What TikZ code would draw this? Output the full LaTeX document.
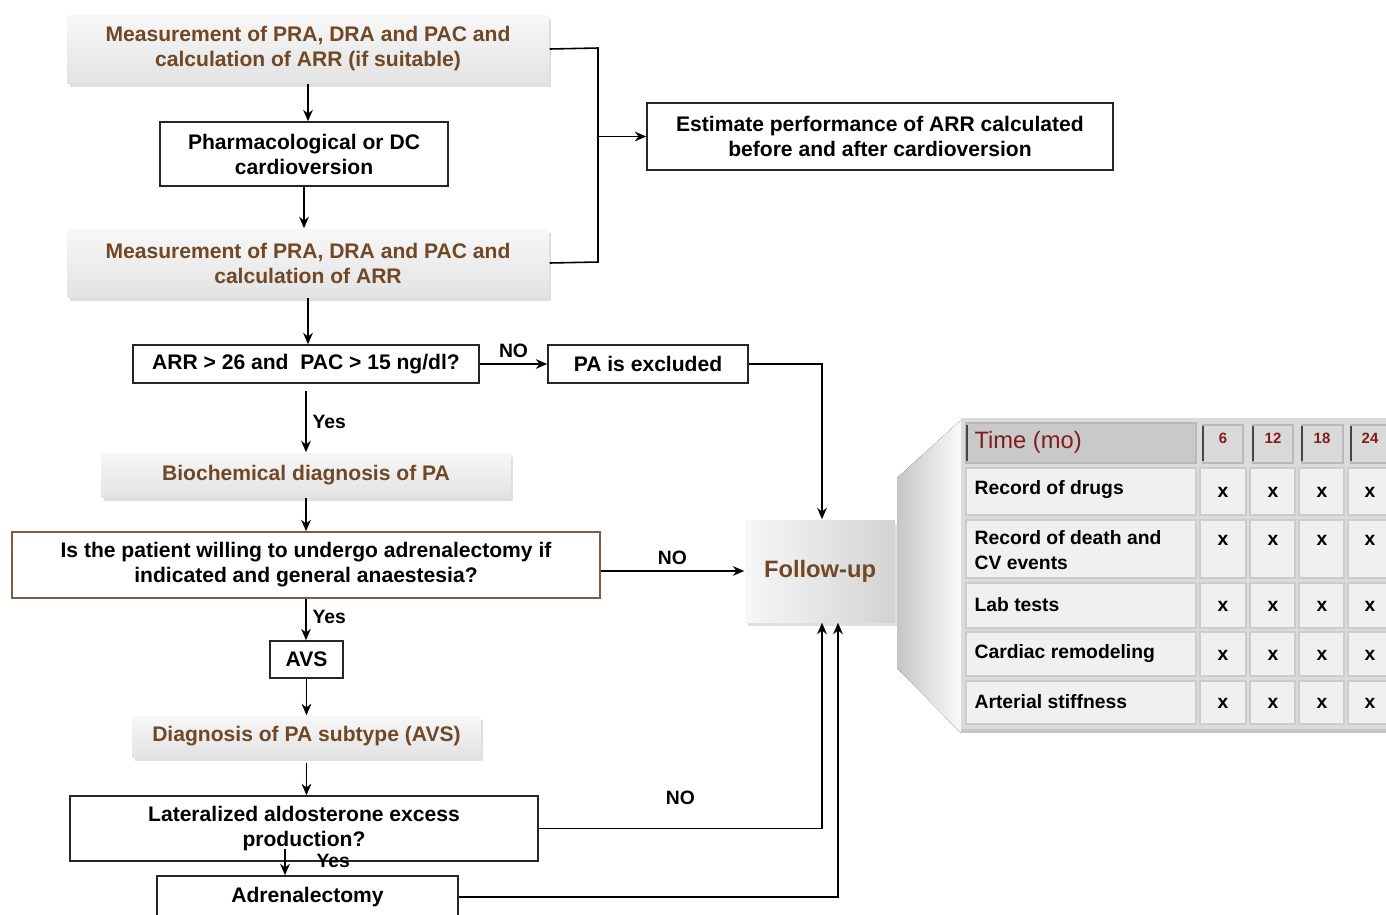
\documentclass[tikz,border=0pt]{standalone}
\usepackage{fontspec}
\setmainfont{Liberation Sans}
\usepackage{tikz}
\usetikzlibrary{arrows.meta}
\usetikzlibrary{shadows}
\definecolor{brownText}{RGB}{112,72,38}
\definecolor{darkRed}{RGB}{130,28,28}
\definecolor{boxEdge}{RGB}{125,92,68}
\tikzset{
	plain box/.style={draw=black!85,line width=0.9pt,fill=white,align=center,
		font=\fontsize{12}{14.2}\selectfont\bfseries,inner sep=2pt},
	shade box/.style={top color=gray!6,bottom color=gray!22,draw=none,align=center,
		text=brownText,font=\fontsize{12}{14.2}\selectfont\bfseries,inner sep=2pt,
		drop shadow={opacity=0.25,shadow xshift=0.05cm,shadow yshift=-0.07cm}},
	lbl/.style={font=\fontsize{11}{13}\selectfont\bfseries},
	cell/.style={fill=gray!12,draw=gray!40,line width=0.6pt},
	row lbl/.style={font=\fontsize{11}{14.2}\selectfont\bfseries,align=left,anchor=west,inner sep=1pt},
	xmark/.style={font=\fontsize{11}{13}\selectfont\bfseries,inner sep=1pt}
}

\begin{document}
\begin{tikzpicture}[x=0.02cm,y=-0.02cm,>={Stealth[length=6.5pt,width=5.5pt]},line width=0.9pt]
	\useasboundingbox (0,0) rectangle (1386,914);
	% flow chart
	\node [shade box,minimum width=9.64cm,minimum height=1.36cm] (meas1) at (308,49)
		{Measurement of PRA, DRA and PAC and\\calculation of ARR (if suitable)};
	\node [plain box,minimum width=5.76cm,minimum height=1.28cm] (pharm) at (304,154)
		{Pharmacological or DC\\cardioversion};
	\node [shade box,minimum width=9.64cm,minimum height=1.36cm] (meas2) at (308,263)
		{Measurement of PRA, DRA and PAC and\\calculation of ARR};
	\node [plain box,minimum width=9.32cm,minimum height=1.34cm] (est) at (880,136.5)
		{Estimate performance of ARR calculated\\before and after cardioversion};
	\node [plain box,minimum width=6.92cm,minimum height=0.76cm] (arr) at (306,364)
		{ARR > 26 and~~PAC > 15 ng/dl?};
	\node [plain box,minimum width=4cm,minimum height=0.76cm] (excl) at (648,364)
		{PA is excluded};
	\node [shade box,minimum width=8.2cm,minimum height=0.88cm] (bio) at (306,475)
		{Biochemical diagnosis of PA};
	\node [plain box,draw=boxEdge,minimum width=11.76cm,minimum height=1.32cm] (will) at (306,565)
		{Is the patient willing to undergo adrenalectomy if\\indicated and general anaestesia?};
	\node [shade box,top color=gray!6,bottom color=gray!6,left color=gray!6,right color=gray!35,
		font=\fontsize{13.5}{16}\selectfont\bfseries,minimum width=3cm,minimum height=2.04cm] (fu) at (820,571)
		{Follow-up};
	\node [plain box,minimum width=1.46cm,minimum height=0.74cm] (avs) at (306.5,659.5) {AVS};
	\node [shade box,minimum width=6.98cm,minimum height=0.82cm] (sub) at (306.5,736.5)
		{Diagnosis of PA subtype (AVS)};
	\node [plain box,minimum width=9.36cm,minimum height=1.3cm] (lat) at (304,828.5)
		{Lateralized aldosterone excess\\production?};
	\node [plain box,minimum width=6.02cm,minimum height=0.84cm] (adr) at (307.5,897)
		{Adrenalectomy};

	\draw [->] (meas1.south) -- (meas1.south |- pharm.north);
	\draw [->] (pharm.south) -- (pharm.south |- meas2.north);
	\coordinate (jt) at (598,48);
	\coordinate (jb) at (598,262);
	\draw (meas1.east) -- (jt) -- (jb) -- (meas2.east);
	\draw [->] (jt |- est.west) -- (est.west);
	\draw [->] (meas2.south) -- (meas2.south |- arr.north);
	\draw [->] (arr.east) -- (excl.west) node [midway,above,lbl] {NO};
	\draw [->] (excl.east) -| ([xshift=0.04cm]fu.north);
	\draw [->] ([yshift=-0.14cm]arr.south) -- (arr.south |- bio.north)
		node [midway,right,lbl] {Yes};
	\draw [->] (bio.south) -- (bio.south |- will.north);
	\draw [->] (will.east |- fu.west) -- (fu.west) node [midway,above,lbl] {NO};
	\draw [->] (will.south) -- (will.south |- avs.north) node [pos=0.45,right,lbl] {Yes};
	\draw [->] (avs.south) -- (avs.south |- sub.north);
	\draw [->] ([yshift=-0.1cm]sub.south) -- (sub.south |- lat.north);
	\draw [->] (lat.east) -| ([xshift=0.04cm]fu.south) node [pos=0.25,above=0.35cm,lbl] {NO};
	\draw [->] ([xshift=-0.38cm,yshift=0.26cm]lat.south) -- ([xshift=-0.38cm]lat.south |- adr.north)
		node [pos=0.45,right=0.5cm,lbl] {Yes};
	\draw [->] (adr.east) -| ([xshift=0.36cm]fu.south);

	% follow-up table
	\fill [left color=gray!45,right color=gray!4] (897,478) -- (961,420) -- (961,733) -- (897,668) -- cycle;
	\fill [gray!28] (961,418) rectangle (1390,733);
	\fill [gray!45] (961,729) rectangle (1390,733);
	\draw [fill=gray!42,draw=gray!55,line width=0.6pt] (966,423) rectangle (1196,463);
	\draw [gray!55!black,line width=1.6pt] (967,425) -- (967,461);
	\foreach \xa/\xb in {1203/1243,1253/1293,1302/1343,1351/1390} {
		\draw [fill=gray!30,draw=gray!55,line width=0.6pt] (\xa,425) rectangle (\xb,463);
		\draw [gray!55!black,line width=1.4pt] (\xa,426) -- (\xa,461);
	}
	\foreach \ya/\yb in {468/515,520/578,583/628,632/676,681/724} {
		\foreach \xa/\xb in {966/1196,1200/1246,1250/1295,1299/1344,1348/1390} {
			\draw [cell] (\xa,\ya) rectangle (\xb,\yb);
		}
	}
	\node [anchor=west,text=darkRed,font=\fontsize{13.5}{16}\selectfont,inner sep=1pt] (time) at (972,442) {Time (mo)};
	\foreach \x/\t in {1223/6,1273/12,1322/18,1370/24}
		\node [text=darkRed,font=\fontsize{8.5}{10}\selectfont\bfseries] (m\t) at (\x,438) {\t};
	\node [row lbl] (drugs) at (972,490) {Record of drugs};
	\node [row lbl] (death) at (972,550.5) {Record of death and\\CV events};
	\node [row lbl] (lab) at (972,605) {Lab tests};
	\node [row lbl] (cardiac) at (972,654) {Cardiac remodeling};
	\node [row lbl] (stiff) at (972,702) {Arterial stiffness};
	\foreach \y in {492,540,606,655,703}
		\foreach \x in {1223,1273,1322,1370}
			\node [xmark] (x\x-\y) at (\x,\y) {x};
\end{tikzpicture}
\end{document}
